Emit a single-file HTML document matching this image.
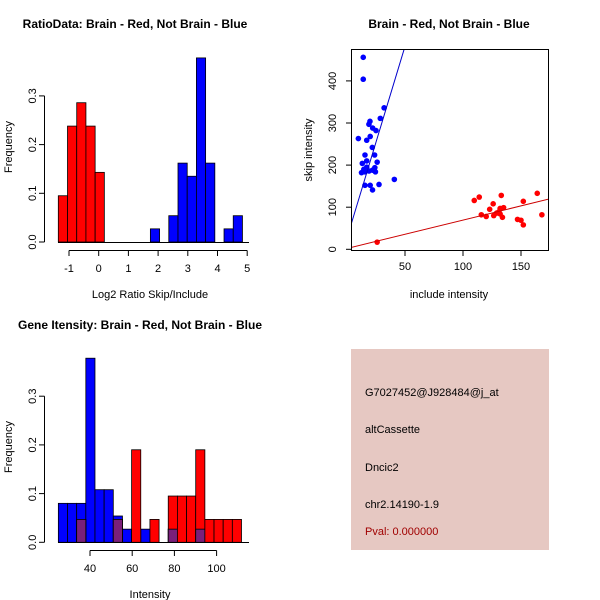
<!DOCTYPE html>
<html><head><meta charset="utf-8"><style>
body{margin:0;background:#fff}
svg{display:block;font-family:"Liberation Sans",sans-serif}
</style></head><body>
<svg id="c" width="600" height="600" xmlns="http://www.w3.org/2000/svg">
<rect width="600" height="600" fill="#fff"/>
<g id="g1"></g>
<g id="g2"></g>
<g id="g3"></g>
<g>
<rect x="351" y="349" width="198" height="201" fill="#e6c8c2"/>
<text x="365" y="396" font-size="11">G7027452@J928484@j_at</text>
<text x="365" y="433" font-size="11">altCassette</text>
<text x="365" y="471" font-size="11">Dncic2</text>
<text x="365" y="508" font-size="11">chr2.14190-1.9</text>
<text x="365" y="535" font-size="11" fill="#a00000">Pval: 0.000000</text>
</g>
</svg>
<script>
// ---- Panel 1 data ----
const ratioBinStart = -1.36;
const ratioBinWidth = 0.31;
const ratioRedHeights = [0.095,0.238,0.286,0.238,0.143];
const ratioRedBins = [0,1,2,3,4];
const ratioBlueHeights = [0.027,0.054,0.162,0.135,0.378,0.162,0.027,0.054];
const ratioBlueBins = [10,12,13,14,15,16,18,19];
const ratioXTicks = [-1,0,1,2,3,4,5];
const freqTicks = ["0.0","0.1","0.2","0.3"];
// ---- Panel 2 data ----
const blueX = [14,14,32,28.7,19.8,18.9,25,22.1,9.8,17,20,21.8,23.8,15.5,26,13.2,17,14.5,15.5,19,22,24,24.5,12.5,17,15.5,20,27.6,22,40.8];
const blueY = [456,404,336,311,304,297,282,288,263,259,268,242,224,224,207,204,210,190,184,186,188,194,184,182,195,152,152,154,141,166];
const redX = [26,109.7,114,133,164,152,126,115.8,120,123,126.5,131,132,135,134,129,147,150,152,168,132];
const redY = [17,116,124,128,133,114,108,82,78,95,80,89,97,99,76,86,71,69,58,82,84];
const blueFit = [27,9.1];
const redFit = [2,0.674];
const scatXTicks = [50,100,150];
const scatYTicks = [0,100,200,300,400];
// ---- Panel 3 data ----
const intBinStart = 25;
const intBinWidth = 4.34;
const intBlue = [0.08,0.08,0.08,0.378,0.108,0.108,0.054,0.027,0,0.027,0,0,0.027,0,0,0.027,0,0,0,0];
const intRed = [0,0,0.047,0,0,0,0.047,0,0.19,0,0.047,0,0.095,0.095,0.095,0.19,0.047,0.047,0.047,0.047];
const intXTicks = [40,60,80,100];

const NS="http://www.w3.org/2000/svg";
function mk(p,t,a,txt){const e=document.createElementNS(NS,t);for(const k in a)e.setAttribute(k,a[k]);if(txt!==undefined)e.textContent=txt;p.appendChild(e);return e;}

// Panel 1
(function(){
const g=document.getElementById('g1');
const xs=v=>69+(v+1)*29.7, ys=v=>242-v*487;
mk(g,'text',{x:135,y:28,'font-size':12,'font-weight':'bold','text-anchor':'middle',},'RatioData: Brain - Red, Not Brain - Blue');
ratioRedHeights.forEach((h,i)=>{const b=ratioRedBins[i];const x0=xs(ratioBinStart+b*ratioBinWidth),x1=xs(ratioBinStart+(b+1)*ratioBinWidth);
const r=mk(g,'rect',{x:x0,y:ys(h),width:x1-x0,height:ys(0)-ys(h),fill:'#ff0000',stroke:'#000','stroke-width':0.8});

});
ratioBlueHeights.forEach((h,i)=>{const b=ratioBlueBins[i];const x0=xs(ratioBinStart+b*ratioBinWidth),x1=xs(ratioBinStart+(b+1)*ratioBinWidth);
const r=mk(g,'rect',{x:x0,y:ys(h),width:x1-x0,height:ys(0)-ys(h),fill:'#0000ff',stroke:'#000','stroke-width':0.8});

});
mk(g,'line',{x1:58,x2:249,y1:242.5,y2:242.5,stroke:'#000'});
mk(g,'line',{x1:xs(-1),x2:xs(5),y1:250.5,y2:250.5,stroke:'#000'});
ratioXTicks.forEach(t=>{mk(g,'line',{x1:xs(t),x2:xs(t),y1:250.5,y2:256,stroke:'#000'});
const e=mk(g,'text',{x:xs(t),y:272,'font-size':11,'text-anchor':'middle'},String(t));

});
mk(g,'line',{x1:44.5,x2:44.5,y1:ys(0),y2:ys(0.3),stroke:'#000'});
freqTicks.forEach(t=>{const y=ys(parseFloat(t));mk(g,'line',{x1:39,x2:44.5,y1:y,y2:y,stroke:'#000'});
const e=mk(g,'text',{x:36,y:y,'font-size':11,'text-anchor':'middle',transform:`rotate(-90 36 ${y})`},t);

});
mk(g,'text',{x:150,y:298,'font-size':11,'text-anchor':'middle',},'Log2 Ratio Skip/Include');
mk(g,'text',{x:12,y:147,'font-size':11,'text-anchor':'middle',transform:'rotate(-90 12 147)',},'Frequency');
})();

// Panel 2
(function(){
const g=document.getElementById('g2');
const xs=v=>347+v*1.16, ys=v=>249.3-v*0.421;
mk(g,'text',{x:449,y:28,'font-size':12,'font-weight':'bold','text-anchor':'middle',},'Brain - Red, Not Brain - Blue');
mk(g,'defs',{}).innerHTML='<clipPath id="cp"><rect x="352" y="49" width="196" height="201"/></clipPath>';
const cg=mk(g,'g',{'clip-path':'url(#cp)'});
blueX.forEach((x,i)=>{const c=mk(cg,'circle',{cx:xs(x),cy:ys(blueY[i]),r:2.8,fill:'#0000ff'});

});
redX.forEach((x,i)=>{const c=mk(cg,'circle',{cx:xs(x),cy:ys(redY[i]),r:2.8,fill:'#ff0000'});

});
mk(cg,'line',{x1:xs(0),y1:ys(blueFit[0]),x2:xs(200),y2:ys(blueFit[0]+200*blueFit[1]),stroke:'#0000cc',});
mk(cg,'line',{x1:xs(0),y1:ys(redFit[0]),x2:xs(200),y2:ys(redFit[0]+200*redFit[1]),stroke:'#cc0000',});
mk(g,'rect',{x:351.5,y:49.5,width:197,height:201,fill:'none',stroke:'#000',});
scatXTicks.forEach(t=>{mk(g,'line',{x1:xs(t),x2:xs(t),y1:250.5,y2:256,stroke:'#000'});
const e=mk(g,'text',{x:xs(t),y:270,'font-size':11,'text-anchor':'middle'},String(t));

});
scatYTicks.forEach(t=>{const y=ys(t);mk(g,'line',{x1:346,x2:351.5,y1:y,y2:y,stroke:'#000'});
const e=mk(g,'text',{x:336,y:y,'font-size':11,'text-anchor':'middle',transform:`rotate(-90 336 ${y})`},String(t));

});
mk(g,'text',{x:449,y:298,'font-size':11,'text-anchor':'middle',},'include intensity');
mk(g,'text',{x:312,y:150,'font-size':11,'text-anchor':'middle',transform:'rotate(-90 312 150)',},'skip intensity');
})();

// Panel 3
(function(){
const g=document.getElementById('g3');
const xs=v=>90+(v-40)*2.11, ys=v=>542.3-v*487;
mk(g,'text',{x:140,y:329,'font-size':12,'font-weight':'bold','text-anchor':'middle',},'Gene Itensity: Brain - Red, Not Brain - Blue');
intBlue.forEach((h,i)=>{if(!h)return;const x0=xs(intBinStart+i*intBinWidth),x1=xs(intBinStart+(i+1)*intBinWidth);
const r=mk(g,'rect',{x:x0,y:ys(h),width:x1-x0,height:ys(0)-ys(h),fill:'#0000ff',stroke:'#000','stroke-width':0.8});

});
intRed.forEach((h,i)=>{if(!h)return;const x0=xs(intBinStart+i*intBinWidth),x1=xs(intBinStart+(i+1)*intBinWidth);
const r=mk(g,'rect',{x:x0,y:ys(h),width:x1-x0,height:ys(0)-ys(h),fill:'#ff0000',stroke:'#000','stroke-width':0.8});


const o=Math.min(h,intBlue[i]);
if(o>0){const p=mk(g,'rect',{x:x0,y:ys(o),width:x1-x0,height:ys(0)-ys(o),fill:'#7a1f7a',stroke:'#000','stroke-width':0.8});

}});
mk(g,'line',{x1:58,x2:249,y1:542.5,y2:542.5,stroke:'#000'});
mk(g,'line',{x1:xs(40),x2:xs(100),y1:550.5,y2:550.5,stroke:'#000'});
intXTicks.forEach(t=>{mk(g,'line',{x1:xs(t),x2:xs(t),y1:550.5,y2:556,stroke:'#000'});
const e=mk(g,'text',{x:xs(t),y:572,'font-size':11,'text-anchor':'middle'},String(t));

});
mk(g,'line',{x1:44.5,x2:44.5,y1:ys(0),y2:ys(0.3),stroke:'#000'});
freqTicks.forEach(t=>{const y=ys(parseFloat(t));mk(g,'line',{x1:39,x2:44.5,y1:y,y2:y,stroke:'#000'});
const e=mk(g,'text',{x:36,y:y,'font-size':11,'text-anchor':'middle',transform:`rotate(-90 36 ${y})`},t);

});
mk(g,'text',{x:150,y:598,'font-size':11,'text-anchor':'middle',},'Intensity');
mk(g,'text',{x:12,y:447,'font-size':11,'text-anchor':'middle',transform:'rotate(-90 12 447)',},'Frequency');
})();
</script>
</body></html>
